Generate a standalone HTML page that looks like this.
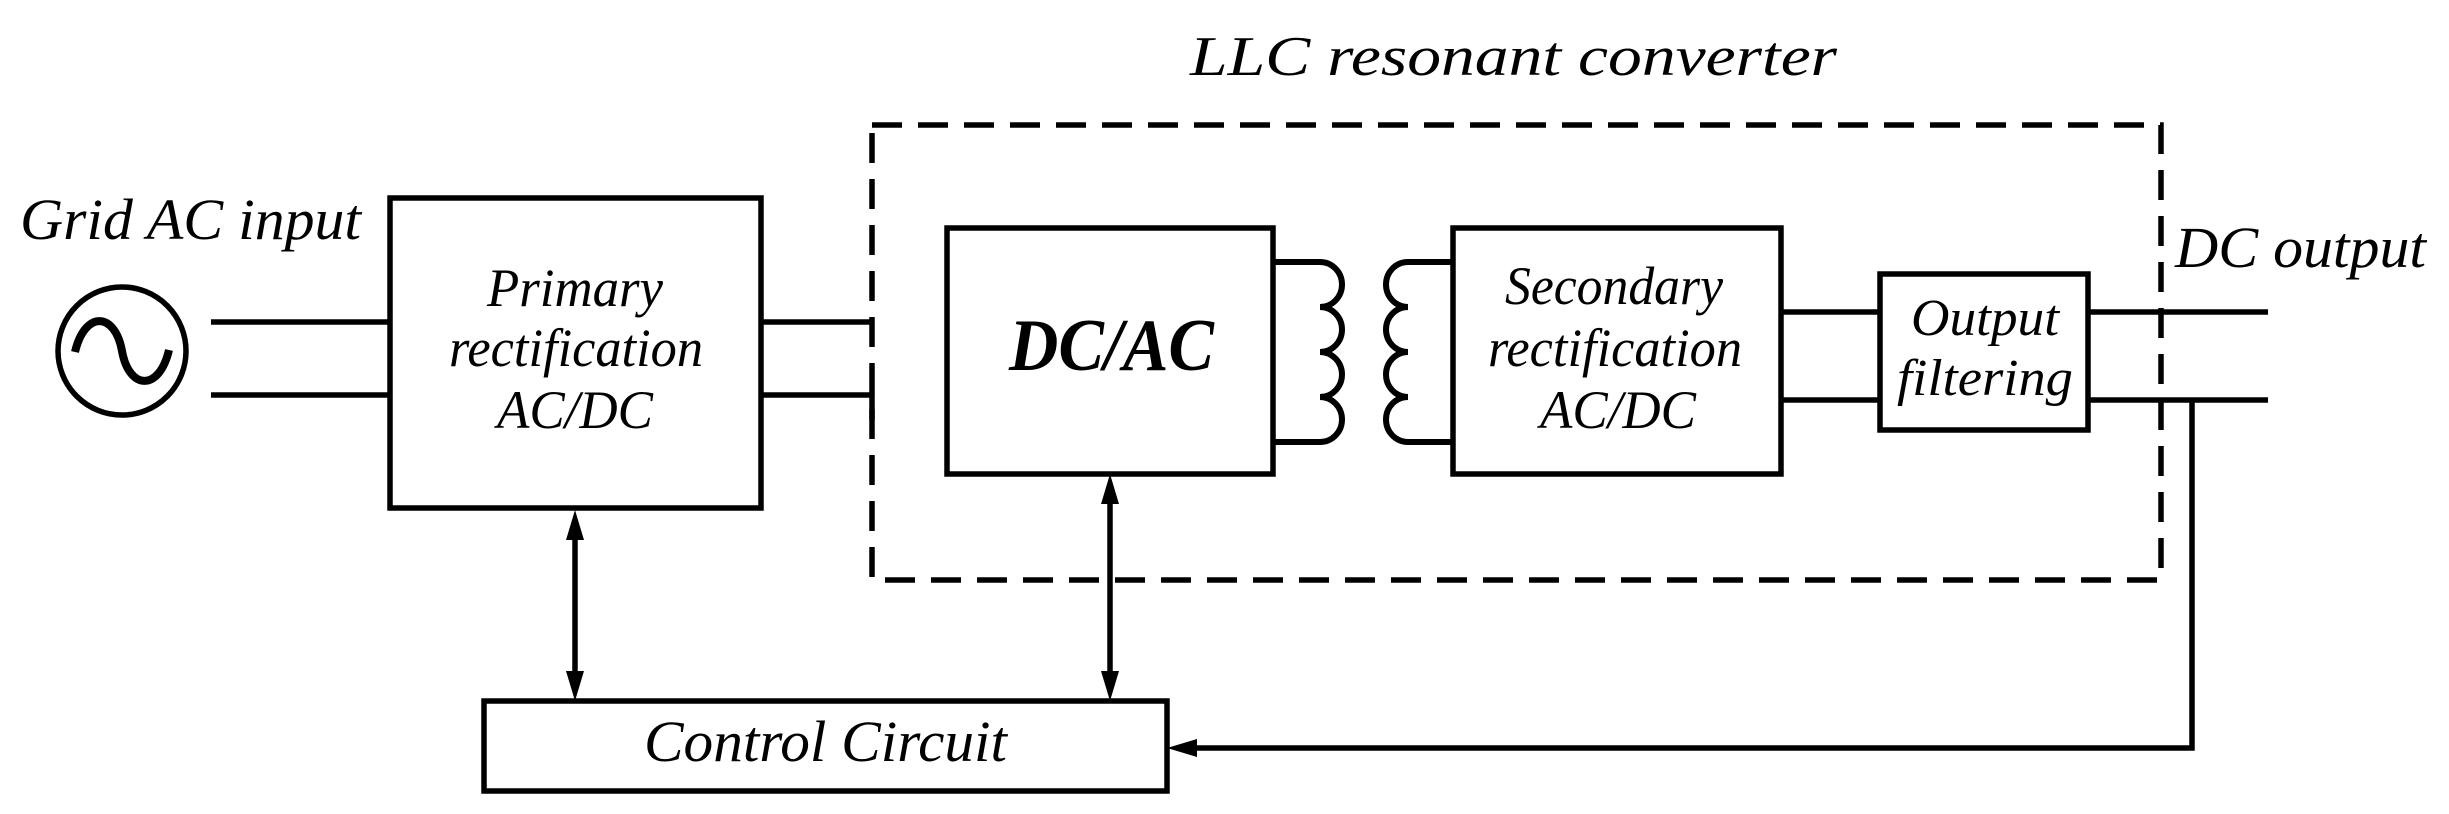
<!DOCTYPE html>
<html><head><meta charset="utf-8"><style>html,body{margin:0;padding:0;background:#fff}svg{display:block}</style></head>
<body>
<svg width="2449" height="814" viewBox="0 0 2449 814" xmlns="http://www.w3.org/2000/svg" font-family="'Liberation Serif', serif" font-style="italic">
<g fill="none" stroke="#000" stroke-width="5.5">
  <ellipse cx="122" cy="351" rx="64" ry="64"/>
  <path d="M75 352 C85 310 115 312 122 351 C129 390 159 392 169 350" stroke-width="8"/>
  <line x1="211" y1="322" x2="390" y2="322"/>
  <line x1="211" y1="395" x2="390" y2="395"/>
  <rect x="390" y="198" width="371" height="310"/>
  <line x1="761" y1="322" x2="872" y2="322"/>
  <polyline points="761,395 872,395 872,420"/>
  <rect x="872" y="125" width="1289" height="455" stroke-dasharray="30,16"/>
  <rect x="947" y="228" width="326" height="246"/>
  <path d="M1273 262 L1320 262 A22 22.5 0 0 1 1320 307 A22 22.5 0 0 1 1320 352 A22 22.5 0 0 1 1320 397 A22 22.5 0 0 1 1320 442 L1273 442" stroke-width="6"/>
  <path d="M1453 262 L1408 262 A22 22.5 0 0 0 1408 307 A22 22.5 0 0 0 1408 352 A22 22.5 0 0 0 1408 397 A22 22.5 0 0 0 1408 442 L1453 442" stroke-width="6"/>
  <rect x="1453" y="228" width="328" height="246"/>
  <line x1="1781" y1="312" x2="1880" y2="312"/>
  <line x1="1781" y1="400" x2="1880" y2="400"/>
  <rect x="1880" y="274" width="208" height="156"/>
  <line x1="2088" y1="312" x2="2268" y2="312"/>
  <line x1="2088" y1="400" x2="2268" y2="400"/>
  <polyline points="2192,400 2192,748 1195,748"/>
  <rect x="484" y="701" width="683" height="90"/>
  <line x1="575" y1="535" x2="575" y2="675"/>
  <line x1="1110" y1="500" x2="1110" y2="675"/>
</g>
<g fill="#000">
  <polygon points="575,510 566,540 584,540"/>
  <polygon points="575,701 566,671 584,671"/>
  <polygon points="1110,474 1101,504 1119,504"/>
  <polygon points="1110,701 1101,671 1119,671"/>
  <polygon points="1167,748 1197,739 1197,757"/>
</g>
<g fill="#000" font-size="54" lengthAdjust="spacingAndGlyphs">
  <text x="1190" y="75" textLength="647" lengthAdjust="spacingAndGlyphs" font-size="56">LLC resonant converter</text>
  <text x="20" y="239" textLength="341" lengthAdjust="spacingAndGlyphs" font-size="58">Grid AC input</text>
  <text x="2175" y="267" textLength="251" lengthAdjust="spacingAndGlyphs" font-size="58">DC output</text>
  <text x="487" y="306" textLength="176" lengthAdjust="spacingAndGlyphs">Primary</text>
  <text x="449" y="366" textLength="254" lengthAdjust="spacingAndGlyphs">rectification</text>
  <text x="497" y="428" textLength="156" lengthAdjust="spacingAndGlyphs">AC/DC</text>
  <text x="1009" y="370" textLength="205" lengthAdjust="spacingAndGlyphs" font-size="74" font-weight="bold">DC/AC</text>
  <text x="1505" y="304" textLength="218" lengthAdjust="spacingAndGlyphs">Secondary</text>
  <text x="1488" y="366" textLength="254" lengthAdjust="spacingAndGlyphs">rectification</text>
  <text x="1540" y="428" textLength="156" lengthAdjust="spacingAndGlyphs">AC/DC</text>
  <text x="1911" y="335" textLength="148" lengthAdjust="spacingAndGlyphs" font-size="52">Output</text>
  <text x="1897" y="395" textLength="176" lengthAdjust="spacingAndGlyphs" font-size="52">filtering</text>
  <text x="644" y="761" textLength="363" lengthAdjust="spacingAndGlyphs" font-size="58">Control Circuit</text>
</g>
</svg>
</body></html>
